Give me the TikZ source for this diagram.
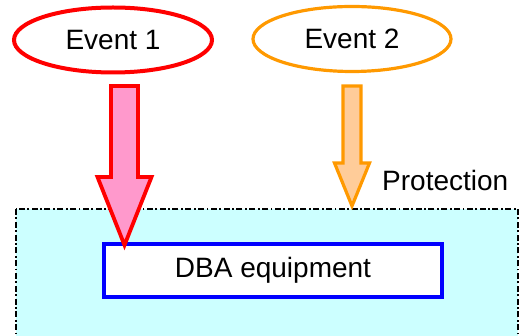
\documentclass[tikz,border=0pt]{standalone}
\usepackage{fontspec}
\setmainfont{Liberation Sans}
\usetikzlibrary{shapes.geometric,calc}
\definecolor{evred}{HTML}{FF0000}
\definecolor{evpink}{HTML}{FF99CC}
\definecolor{evorange}{HTML}{FF9900}
\definecolor{evpeach}{HTML}{FFCC99}
\definecolor{protcyan}{HTML}{CCFFFF}
\definecolor{boxblue}{HTML}{0000FF}
\tikzset{
  event/.style={ellipse, draw, fill=white, minimum width=198pt, minimum height=65pt, inner sep=0pt, font=\fontsize{28}{30}\selectfont},
  protzone/.style={draw=black, fill=protcyan, line width=1.8pt, dash pattern=on 6pt off 2.5pt on 1.8pt off 2.5pt},
  equip/.style={draw=boxblue, fill=white, line width=3.8pt, minimum width=338pt, minimum height=53pt, inner sep=0pt, font=\fontsize{28}{30}\selectfont},
  lbl/.style={font=\fontsize{28}{30}\selectfont, inner sep=0pt},
  bigarrow/.style={line width=3.8pt, line join=miter},
}
\begin{document}
\begin{tikzpicture}[x=1pt,y=-1pt]
\useasboundingbox (0,0) rectangle (520,336);
\clip (0,0) rectangle (520,336);
% protection zone
\draw[protzone] (16,209) rectangle (518,345);
\coordinate (zonetop) at (352,209);
% nodes
\node[event, draw=evred, line width=4pt] (e1) at (113,40) {Event 1};
\node[event, draw=evorange, line width=3.2pt] (e2) at (352,39) {Event 2};
\node[equip] (dba) at (273,270.5) {DBA equipment};
\node[lbl, anchor=base west] (prot) at (382,191) {Protection};
% red arrow from Event 1 to DBA equipment
\coordinate (a1) at (124.5,86);
\coordinate (t1) at ($(dba.north west)!(a1)!(dba.north east)$);
\draw[bigarrow, draw=evred, fill=evpink]
  ($(a1)+(-13.5,0)$) -- ($(a1)+(13.5,0)$) -- ($(a1)+(13.5,91)$) -- ($(a1)+(27,91)$)
  -- ($(t1)+(0,3)$) -- ($(a1)+(-27,91)$) -- ($(a1)+(-13.5,91)$) -- cycle;
% orange arrow from Event 2 to protection zone
\coordinate (a2) at (352,86);
\draw[bigarrow, line width=3.2pt, draw=evorange, fill=evpeach]
  ($(a2)+(-9,0)$) -- ($(a2)+(9,0)$) -- ($(a2)+(9,77)$) -- ($(a2)+(17.5,77)$)
  -- ($(zonetop)+(0,-3)$) -- ($(a2)+(-17.5,77)$) -- ($(a2)+(-9,77)$) -- cycle;
\end{tikzpicture}
\end{document}
